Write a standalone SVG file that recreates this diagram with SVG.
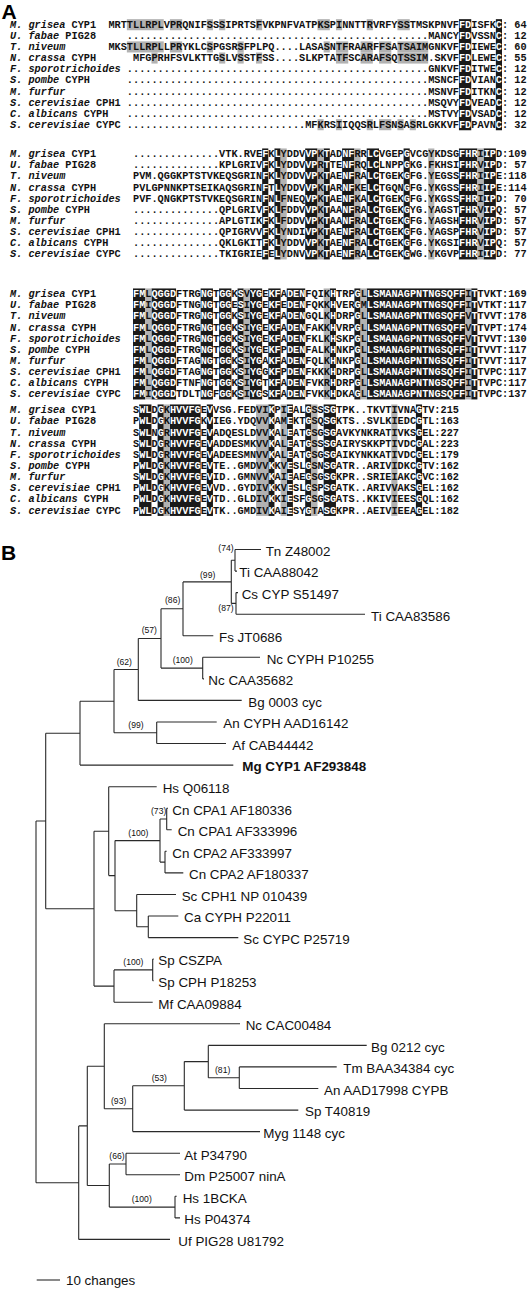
<svg xmlns="http://www.w3.org/2000/svg" width="528" height="1290" viewBox="0 0 528 1290">
<style>
.q{font-family:"Liberation Mono","DejaVu Sans Mono",monospace;font-size:10.25px;font-weight:bold;fill:#111}
.i{font-style:italic}
.w{fill:#fff}
.k{fill:#1a1a1a}
.g{fill:#b2b2b2}
.br{fill:none;stroke:#2a2a2a;stroke-width:1.1}
.lb{font-family:"Liberation Sans",Arial,sans-serif;font-size:13.4px;fill:#111}
.bd{font-weight:bold}
.bs{font-family:"Liberation Sans",Arial,sans-serif;font-size:8.6px;fill:#111}
.pl{font-family:"Liberation Sans",Arial,sans-serif;font-size:21px;font-weight:bold;fill:#000}
</style>
<rect width="528" height="1290" fill="#fff"/>
<g id="panel-labels">
<text class="pl" x="1.5" y="18.5">A</text>
<text class="pl" x="1" y="559.5">B</text>
</g>
<g id="shading">
<rect class="k" x="458.95" y="19.15" width="12.3" height="111.1"/>
<rect class="k" x="495.85" y="19.15" width="6.15" height="111.1"/>
<rect class="g" x="126.85" y="19.15" width="36.9" height="11.1"/>
<rect class="g" x="169.9" y="19.15" width="12.3" height="11.1"/>
<rect class="g" x="206.8" y="19.15" width="6.15" height="11.1"/>
<rect class="g" x="219.1" y="19.15" width="6.15" height="11.1"/>
<rect class="g" x="256" y="19.15" width="6.15" height="11.1"/>
<rect class="g" x="317.5" y="19.15" width="12.3" height="11.1"/>
<rect class="g" x="335.95" y="19.15" width="6.15" height="11.1"/>
<rect class="g" x="366.7" y="19.15" width="6.15" height="11.1"/>
<rect class="g" x="397.45" y="19.15" width="12.3" height="11.1"/>
<rect class="g" x="126.85" y="41.37" width="36.9" height="11.1"/>
<rect class="g" x="169.9" y="41.37" width="12.3" height="11.1"/>
<rect class="g" x="206.8" y="41.37" width="6.15" height="11.1"/>
<rect class="g" x="237.55" y="41.37" width="6.15" height="11.1"/>
<rect class="g" x="323.65" y="41.37" width="6.15" height="11.1"/>
<rect class="g" x="335.95" y="41.37" width="12.3" height="11.1"/>
<rect class="g" x="360.55" y="41.37" width="12.3" height="11.1"/>
<rect class="g" x="379" y="41.37" width="12.3" height="11.1"/>
<rect class="g" x="397.45" y="41.37" width="30.75" height="11.1"/>
<rect class="g" x="151.45" y="52.48" width="6.15" height="11.1"/>
<rect class="g" x="219.1" y="52.48" width="6.15" height="11.1"/>
<rect class="g" x="237.55" y="52.48" width="6.15" height="11.1"/>
<rect class="g" x="256" y="52.48" width="6.15" height="11.1"/>
<rect class="g" x="335.95" y="52.48" width="12.3" height="11.1"/>
<rect class="g" x="360.55" y="52.48" width="12.3" height="11.1"/>
<rect class="g" x="379" y="52.48" width="12.3" height="11.1"/>
<rect class="g" x="397.45" y="52.48" width="30.75" height="11.1"/>
<rect class="g" x="317.5" y="119.14" width="6.15" height="11.1"/>
<rect class="g" x="335.95" y="119.14" width="6.15" height="11.1"/>
<rect class="g" x="366.7" y="119.14" width="6.15" height="11.1"/>
<rect class="g" x="379" y="119.14" width="12.3" height="11.1"/>
<rect class="g" x="397.45" y="119.14" width="6.15" height="11.1"/>
<rect class="g" x="409.75" y="119.14" width="6.15" height="11.1"/>
<rect class="k" x="262.15" y="148.45" width="6.15" height="111"/>
<rect class="k" x="274.45" y="148.45" width="6.15" height="111"/>
<rect class="k" x="305.2" y="148.45" width="12.3" height="111"/>
<rect class="k" x="323.65" y="148.45" width="6.15" height="111"/>
<rect class="k" x="342.1" y="148.45" width="12.3" height="111"/>
<rect class="k" x="366.7" y="148.45" width="12.3" height="111"/>
<rect class="k" x="403.6" y="148.45" width="6.15" height="111"/>
<rect class="k" x="458.95" y="148.45" width="18.45" height="111"/>
<rect class="k" x="483.55" y="148.45" width="12.3" height="111"/>
<rect class="g" x="280.6" y="148.45" width="6.15" height="111"/>
<rect class="g" x="317.5" y="148.45" width="6.15" height="111"/>
<rect class="g" x="354.4" y="148.45" width="6.15" height="111"/>
<rect class="g" x="428.2" y="148.45" width="6.15" height="111"/>
<rect class="g" x="477.4" y="148.45" width="6.15" height="111"/>
<rect class="k" x="133" y="288.45" width="12.3" height="111"/>
<rect class="k" x="151.45" y="288.45" width="24.6" height="111"/>
<rect class="k" x="200.65" y="288.45" width="12.3" height="111"/>
<rect class="k" x="219.1" y="288.45" width="12.3" height="111"/>
<rect class="k" x="237.55" y="288.45" width="6.15" height="111"/>
<rect class="k" x="249.85" y="288.45" width="12.3" height="111"/>
<rect class="k" x="268.3" y="288.45" width="12.3" height="111"/>
<rect class="k" x="286.75" y="288.45" width="18.45" height="111"/>
<rect class="k" x="329.8" y="288.45" width="6.15" height="111"/>
<rect class="k" x="354.4" y="288.45" width="6.15" height="111"/>
<rect class="k" x="366.7" y="288.45" width="98.4" height="111"/>
<rect class="k" x="471.25" y="288.45" width="6.15" height="111"/>
<rect class="g" x="145.3" y="288.45" width="6.15" height="111"/>
<rect class="g" x="243.7" y="288.45" width="6.15" height="111"/>
<rect class="g" x="323.65" y="288.45" width="6.15" height="111"/>
<rect class="g" x="360.55" y="288.45" width="6.15" height="111"/>
<rect class="g" x="465.1" y="288.45" width="6.15" height="111"/>
<rect class="k" x="139.15" y="404.45" width="12.3" height="111.5"/>
<rect class="k" x="157.6" y="404.45" width="6.15" height="111.5"/>
<rect class="k" x="169.9" y="404.45" width="30.75" height="111.5"/>
<rect class="k" x="206.8" y="404.45" width="6.15" height="111.5"/>
<rect class="k" x="268.3" y="404.45" width="6.15" height="111.5"/>
<rect class="k" x="286.75" y="404.45" width="6.15" height="111.5"/>
<rect class="k" x="305.2" y="404.45" width="6.15" height="111.5"/>
<rect class="k" x="323.65" y="404.45" width="12.3" height="111.5"/>
<rect class="k" x="415.9" y="404.45" width="6.15" height="111.5"/>
<rect class="g" x="163.75" y="404.45" width="6.15" height="111.5"/>
<rect class="g" x="256" y="404.45" width="12.3" height="111.5"/>
<rect class="g" x="280.6" y="404.45" width="6.15" height="111.5"/>
<rect class="g" x="311.35" y="404.45" width="6.15" height="111.5"/>
<rect class="g" x="391.3" y="404.45" width="6.15" height="111.5"/>
</g>
<g id="block1">
<text class="q" x="10" y="27.9"><tspan class="i">M. grisea</tspan> CYP1</text>
<text class="q" x="10" y="39.01"><tspan class="i">U. fabae</tspan> PIG28</text>
<text class="q" x="10" y="50.12"><tspan class="i">T. niveum</tspan></text>
<text class="q" x="10" y="61.23"><tspan class="i">N. crassa</tspan> CYPH</text>
<text class="q" x="10" y="72.34"><tspan class="i">F. sporotrichoides</tspan></text>
<text class="q" x="10" y="83.45"><tspan class="i">S. pombe</tspan> CYPH</text>
<text class="q" x="10" y="94.56"><tspan class="i">M. furfur</tspan></text>
<text class="q" x="10" y="105.67"><tspan class="i">S. cerevisiae</tspan> CPH1</text>
<text class="q" x="10" y="116.78"><tspan class="i">C. albicans</tspan> CYPH</text>
<text class="q" x="10" y="127.89"><tspan class="i">S. cerevisiae</tspan> CYPC</text>
<text class="q" x="108.4" y="27.9">MRTTLLRPLVPRQNIFSSSIPRTSFVKPNFVATPKSPINNTTRVRFYSSTMSKPNVF<tspan x="458.95" class="w">FD</tspan>ISFK<tspan class="w">C</tspan><tspan x="502">: 64</tspan></text>
<text class="q" x="126.85" y="39.01">.................................................<tspan x="428.2">MANCY</tspan><tspan x="458.95" class="w">FD</tspan>VSSN<tspan class="w">C</tspan><tspan x="502">: 12</tspan></text>
<text class="q" x="108.4" y="50.12">MKSTLLRPLLPRYKLCSPGSRSFPLPQ....LASASNTFRAARFFSATSAIMGNKVF<tspan x="458.95" class="w">FD</tspan>IEWE<tspan class="w">C</tspan><tspan x="502">: 60</tspan></text>
<text class="q" x="133" y="61.23">MFGPRHFSVLKTTGSLVSSTFSS....SLKPTATFSCARAFSQTSSIM.SKVF<tspan x="458.95" class="w">FD</tspan>LEWE<tspan class="w">C</tspan><tspan x="502">: 55</tspan></text>
<text class="q" x="126.85" y="72.34">.................................................<tspan x="428.2">GNKVF</tspan><tspan x="458.95" class="w">FD</tspan>ITWE<tspan class="w">C</tspan><tspan x="502">: 12</tspan></text>
<text class="q" x="126.85" y="83.45">.................................................<tspan x="428.2">MSNCF</tspan><tspan x="458.95" class="w">FD</tspan>VIAN<tspan class="w">C</tspan><tspan x="502">: 12</tspan></text>
<text class="q" x="126.85" y="94.56">.................................................<tspan x="428.2">MSNVF</tspan><tspan x="458.95" class="w">FD</tspan>ITKN<tspan class="w">C</tspan><tspan x="502">: 12</tspan></text>
<text class="q" x="126.85" y="105.67">.................................................<tspan x="428.2">MSQVY</tspan><tspan x="458.95" class="w">FD</tspan>VEAD<tspan class="w">C</tspan><tspan x="502">: 12</tspan></text>
<text class="q" x="126.85" y="116.78">.................................................<tspan x="428.2">MSTVY</tspan><tspan x="458.95" class="w">FD</tspan>VSAD<tspan class="w">C</tspan><tspan x="502">: 12</tspan></text>
<text class="q" x="126.85" y="127.89">.............................<tspan x="305.2">MFKRSIIQQSRLFSNSASRLGKKVF</tspan><tspan x="458.95" class="w">FD</tspan>PAVN<tspan class="w">C</tspan><tspan x="502">: 32</tspan></text>
</g>
<g id="block2">
<text class="q" x="10" y="157.2"><tspan class="i">M. grisea</tspan> CYP1</text>
<text class="q" x="10" y="168.3"><tspan class="i">U. fabae</tspan> PIG28</text>
<text class="q" x="10" y="179.4"><tspan class="i">T. niveum</tspan></text>
<text class="q" x="10" y="190.5"><tspan class="i">N. crassa</tspan> CYPH</text>
<text class="q" x="10" y="201.6"><tspan class="i">F. sporotrichoides</tspan></text>
<text class="q" x="10" y="212.7"><tspan class="i">S. pombe</tspan> CYPH</text>
<text class="q" x="10" y="223.8"><tspan class="i">M. furfur</tspan></text>
<text class="q" x="10" y="234.9"><tspan class="i">S. cerevisiae</tspan> CPH1</text>
<text class="q" x="10" y="246"><tspan class="i">C. albicans</tspan> CYPH</text>
<text class="q" x="10" y="257.1"><tspan class="i">S. cerevisiae</tspan> CYPC</text>
<text class="q" x="133" y="157.2">..............VTK.RVE<tspan x="262.15" class="w">F</tspan>K<tspan class="w">L</tspan>YDDV<tspan class="w">VP</tspan>K<tspan class="w">T</tspan>AD<tspan class="w">NF</tspan>RR<tspan class="w">LC</tspan>VGEP<tspan class="w">G</tspan>VCGYKDSG<tspan class="w">FHR</tspan>I<tspan class="w">IP</tspan>D<tspan x="502">:109</tspan></text>
<text class="q" x="133" y="168.3">..............KPLGRIV<tspan x="262.15" class="w">F</tspan>K<tspan class="w">L</tspan>YDDV<tspan class="w">VP</tspan>R<tspan class="w">T</tspan>TE<tspan class="w">NF</tspan>RQ<tspan class="w">LC</tspan>LNPP<tspan class="w">G</tspan>KG.FKHSI<tspan class="w">FHR</tspan>V<tspan class="w">IP</tspan>D<tspan x="502">: 57</tspan></text>
<text class="q" x="133" y="179.4">PVM.QGGKPTSTVKEQSGRIN<tspan x="262.15" class="w">F</tspan>K<tspan class="w">L</tspan>YDDV<tspan class="w">VP</tspan>K<tspan class="w">T</tspan>AE<tspan class="w">NF</tspan>RA<tspan class="w">LC</tspan>TGEK<tspan class="w">G</tspan>FG.YEGSS<tspan class="w">FHR</tspan>I<tspan class="w">IP</tspan>E<tspan x="502">:118</tspan></text>
<text class="q" x="133" y="190.5">PVLGPNNKPTSEIKAQSGRIN<tspan x="262.15" class="w">F</tspan>T<tspan class="w">L</tspan>YDDV<tspan class="w">VP</tspan>K<tspan class="w">T</tspan>AR<tspan class="w">NF</tspan>KE<tspan class="w">LC</tspan>TGQN<tspan class="w">G</tspan>FG.YKGSS<tspan class="w">FHR</tspan>I<tspan class="w">IP</tspan>E<tspan x="502">:114</tspan></text>
<text class="q" x="133" y="201.6">PVF.QNGKPTSTVKEQSGRIN<tspan x="262.15" class="w">F</tspan>N<tspan class="w">L</tspan>FNEQ<tspan class="w">VP</tspan>K<tspan class="w">T</tspan>AE<tspan class="w">NF</tspan>KA<tspan class="w">LC</tspan>TGEK<tspan class="w">G</tspan>FG.YKGSS<tspan class="w">FHR</tspan>I<tspan class="w">IP</tspan>D<tspan x="502">: 70</tspan></text>
<text class="q" x="133" y="212.7">..............QPLGRIV<tspan x="262.15" class="w">F</tspan>K<tspan class="w">L</tspan>FDDV<tspan class="w">VP</tspan>K<tspan class="w">T</tspan>AA<tspan class="w">NF</tspan>RA<tspan class="w">LC</tspan>TGEK<tspan class="w">G</tspan>YG.YAGST<tspan class="w">FHR</tspan>V<tspan class="w">IP</tspan>Q<tspan x="502">: 57</tspan></text>
<text class="q" x="133" y="223.8">..............APLGTIK<tspan x="262.15" class="w">F</tspan>K<tspan class="w">L</tspan>FDDV<tspan class="w">VP</tspan>K<tspan class="w">T</tspan>AA<tspan class="w">NF</tspan>RA<tspan class="w">LC</tspan>TGEK<tspan class="w">G</tspan>FG.YAGSH<tspan class="w">FHR</tspan>V<tspan class="w">IP</tspan>D<tspan x="502">: 57</tspan></text>
<text class="q" x="133" y="234.9">..............QPIGRVV<tspan x="262.15" class="w">F</tspan>K<tspan class="w">L</tspan>YNDI<tspan class="w">VP</tspan>K<tspan class="w">T</tspan>AE<tspan class="w">NF</tspan>RA<tspan class="w">LC</tspan>TGEK<tspan class="w">G</tspan>FG.YAGSP<tspan class="w">FHR</tspan>V<tspan class="w">IP</tspan>D<tspan x="502">: 57</tspan></text>
<text class="q" x="133" y="246">..............QKLGKIT<tspan x="262.15" class="w">F</tspan>K<tspan class="w">L</tspan>YDDV<tspan class="w">VP</tspan>K<tspan class="w">T</tspan>AE<tspan class="w">NF</tspan>RA<tspan class="w">LC</tspan>TGEK<tspan class="w">G</tspan>FG.YKGSI<tspan class="w">FHR</tspan>V<tspan class="w">IP</tspan>Q<tspan x="502">: 57</tspan></text>
<text class="q" x="133" y="257.1">..............TKIGRIE<tspan x="262.15" class="w">F</tspan>E<tspan class="w">L</tspan>YDNV<tspan class="w">VP</tspan>K<tspan class="w">T</tspan>AE<tspan class="w">NF</tspan>RA<tspan class="w">LC</tspan>TGEK<tspan class="w">G</tspan>WG.YKGVP<tspan class="w">FHR</tspan>I<tspan class="w">IP</tspan>D<tspan x="502">: 77</tspan></text>
</g>
<g id="block3">
<text class="q" x="10" y="297.2"><tspan class="i">M. grisea</tspan> CYP1</text>
<text class="q" x="10" y="308.3"><tspan class="i">U. fabae</tspan> PIG28</text>
<text class="q" x="10" y="319.4"><tspan class="i">T. niveum</tspan></text>
<text class="q" x="10" y="330.5"><tspan class="i">N. crassa</tspan> CYPH</text>
<text class="q" x="10" y="341.6"><tspan class="i">F. sporotrichoides</tspan></text>
<text class="q" x="10" y="352.7"><tspan class="i">S. pombe</tspan> CYPH</text>
<text class="q" x="10" y="363.8"><tspan class="i">M. furfur</tspan></text>
<text class="q" x="10" y="374.9"><tspan class="i">S. cerevisiae</tspan> CPH1</text>
<text class="q" x="10" y="386"><tspan class="i">C. albicans</tspan> CYPH</text>
<text class="q" x="10" y="397.1"><tspan class="i">S. cerevisiae</tspan> CYPC</text>
<text class="q" x="133" y="297.2"><tspan class="w">FM</tspan>L<tspan class="w">QGGD</tspan>FTRG<tspan class="w">NG</tspan>T<tspan class="w">GG</tspan>K<tspan class="w">S</tspan>V<tspan class="w">YG</tspan>E<tspan class="w">KF</tspan>A<tspan class="w">DEN</tspan>FQIK<tspan class="w">H</tspan>TRP<tspan class="w">G</tspan>L<tspan class="w">LSMANAGPNTNGSQFF</tspan>I<tspan class="w">T</tspan>TVKT<tspan x="502">:169</tspan></text>
<text class="q" x="133" y="308.3"><tspan class="w">FM</tspan>I<tspan class="w">QGGD</tspan>FTNG<tspan class="w">NG</tspan>T<tspan class="w">GG</tspan>E<tspan class="w">S</tspan>I<tspan class="w">YG</tspan>E<tspan class="w">KF</tspan>E<tspan class="w">DEN</tspan>FQKK<tspan class="w">H</tspan>VER<tspan class="w">G</tspan>M<tspan class="w">LSMANAGPNTNGSQFF</tspan>I<tspan class="w">T</tspan>VTKT<tspan x="502">:117</tspan></text>
<text class="q" x="133" y="319.4"><tspan class="w">FM</tspan>L<tspan class="w">QGGD</tspan>FTRG<tspan class="w">NG</tspan>T<tspan class="w">GG</tspan>K<tspan class="w">S</tspan>I<tspan class="w">YG</tspan>E<tspan class="w">KF</tspan>A<tspan class="w">DEN</tspan>GQLK<tspan class="w">H</tspan>DRP<tspan class="w">G</tspan>L<tspan class="w">LSMANAGPNTNGSQFF</tspan>V<tspan class="w">T</tspan>TVVT<tspan x="502">:178</tspan></text>
<text class="q" x="133" y="330.5"><tspan class="w">FM</tspan>L<tspan class="w">QGGD</tspan>FTRG<tspan class="w">NG</tspan>T<tspan class="w">GG</tspan>K<tspan class="w">S</tspan>I<tspan class="w">YG</tspan>E<tspan class="w">KF</tspan>A<tspan class="w">DEN</tspan>FAKK<tspan class="w">H</tspan>VRP<tspan class="w">G</tspan>L<tspan class="w">LSMANAGPNTNGSQFF</tspan>V<tspan class="w">T</tspan>TVPT<tspan x="502">:174</tspan></text>
<text class="q" x="133" y="341.6"><tspan class="w">FM</tspan>L<tspan class="w">QGGD</tspan>FTRG<tspan class="w">NG</tspan>T<tspan class="w">GG</tspan>K<tspan class="w">S</tspan>I<tspan class="w">YG</tspan>E<tspan class="w">KF</tspan>A<tspan class="w">DEN</tspan>FKLK<tspan class="w">H</tspan>SKP<tspan class="w">G</tspan>L<tspan class="w">LSMANAGPNTNGSQFF</tspan>V<tspan class="w">T</tspan>TVVT<tspan x="502">:130</tspan></text>
<text class="q" x="133" y="352.7"><tspan class="w">FM</tspan>L<tspan class="w">QGGD</tspan>FTRG<tspan class="w">NG</tspan>T<tspan class="w">GG</tspan>K<tspan class="w">S</tspan>I<tspan class="w">YG</tspan>E<tspan class="w">KF</tspan>P<tspan class="w">DEN</tspan>FALK<tspan class="w">H</tspan>NKP<tspan class="w">G</tspan>L<tspan class="w">LSMANAGPNTNGSQFF</tspan>I<tspan class="w">T</tspan>TVVT<tspan x="502">:117</tspan></text>
<text class="q" x="133" y="363.8"><tspan class="w">FM</tspan>L<tspan class="w">QGGD</tspan>FTAG<tspan class="w">NG</tspan>T<tspan class="w">GG</tspan>K<tspan class="w">S</tspan>I<tspan class="w">YG</tspan>A<tspan class="w">KF</tspan>A<tspan class="w">DEN</tspan>FQLK<tspan class="w">H</tspan>NKP<tspan class="w">G</tspan>L<tspan class="w">LSMANAGPNTNGSQFF</tspan>I<tspan class="w">T</tspan>TVVT<tspan x="502">:117</tspan></text>
<text class="q" x="133" y="374.9"><tspan class="w">FM</tspan>L<tspan class="w">QGGD</tspan>FTAG<tspan class="w">NG</tspan>T<tspan class="w">GG</tspan>K<tspan class="w">S</tspan>I<tspan class="w">YG</tspan>G<tspan class="w">KF</tspan>P<tspan class="w">DEN</tspan>FKKK<tspan class="w">H</tspan>DRP<tspan class="w">G</tspan>L<tspan class="w">LSMANAGPNTNGSQFF</tspan>I<tspan class="w">T</tspan>TVPC<tspan x="502">:117</tspan></text>
<text class="q" x="133" y="386"><tspan class="w">FM</tspan>L<tspan class="w">QGGD</tspan>FTNF<tspan class="w">NG</tspan>T<tspan class="w">GG</tspan>K<tspan class="w">S</tspan>I<tspan class="w">YG</tspan>T<tspan class="w">KF</tspan>A<tspan class="w">DEN</tspan>FVKR<tspan class="w">H</tspan>DRP<tspan class="w">G</tspan>L<tspan class="w">LSMANAGPNTNGSQFF</tspan>I<tspan class="w">T</tspan>TVPC<tspan x="502">:117</tspan></text>
<text class="q" x="133" y="397.1"><tspan class="w">FM</tspan>I<tspan class="w">QGGD</tspan>TDLT<tspan class="w">NG</tspan>F<tspan class="w">GG</tspan>K<tspan class="w">S</tspan>I<tspan class="w">YG</tspan>S<tspan class="w">KF</tspan>A<tspan class="w">DEN</tspan>FVKK<tspan class="w">H</tspan>DKA<tspan class="w">G</tspan>L<tspan class="w">LSMANAGPNTNGSQFF</tspan>I<tspan class="w">T</tspan>TVPC<tspan x="502">:137</tspan></text>
</g>
<g id="block4">
<text class="q" x="10" y="413.2"><tspan class="i">M. grisea</tspan> CYP1</text>
<text class="q" x="10" y="424.35"><tspan class="i">U. fabae</tspan> PIG28</text>
<text class="q" x="10" y="435.5"><tspan class="i">T. niveum</tspan></text>
<text class="q" x="10" y="446.65"><tspan class="i">N. crassa</tspan> CYPH</text>
<text class="q" x="10" y="457.8"><tspan class="i">F. sporotrichoides</tspan></text>
<text class="q" x="10" y="468.95"><tspan class="i">S. pombe</tspan> CYPH</text>
<text class="q" x="10" y="480.1"><tspan class="i">M. furfur</tspan></text>
<text class="q" x="10" y="491.25"><tspan class="i">S. cerevisiae</tspan> CPH1</text>
<text class="q" x="10" y="502.4"><tspan class="i">C. albicans</tspan> CYPH</text>
<text class="q" x="10" y="513.55"><tspan class="i">S. cerevisiae</tspan> CYPC</text>
<text class="q" x="133" y="413.2">S<tspan class="w">WL</tspan>D<tspan class="w">G</tspan>K<tspan class="w">HVVFG</tspan>E<tspan class="w">V</tspan>VSG.FEDVI<tspan class="w">K</tspan>PI<tspan class="w">E</tspan>AL<tspan class="w">G</tspan>SS<tspan class="w">SG</tspan>TPK..TKVTIVNA<tspan class="w">G</tspan>TV<tspan x="434.35">:215</tspan></text>
<text class="q" x="133" y="424.35">P<tspan class="w">WL</tspan>D<tspan class="w">G</tspan>K<tspan class="w">HVVFG</tspan>K<tspan class="w">V</tspan>IEG.YDQVV<tspan class="w">K</tspan>AM<tspan class="w">E</tspan>KT<tspan class="w">G</tspan>SQ<tspan class="w">SG</tspan>KTS..SVLKIEDC<tspan class="w">G</tspan>TL<tspan x="434.35">:163</tspan></text>
<text class="q" x="133" y="435.5">S<tspan class="w">WL</tspan>N<tspan class="w">G</tspan>R<tspan class="w">HVVFG</tspan>E<tspan class="w">V</tspan>ADQESLDVV<tspan class="w">K</tspan>AL<tspan class="w">E</tspan>AT<tspan class="w">G</tspan>SG<tspan class="w">SG</tspan>AVKYNKRATIVKS<tspan class="w">G</tspan>EL<tspan x="434.35">:227</tspan></text>
<text class="q" x="133" y="446.65">S<tspan class="w">WL</tspan>D<tspan class="w">G</tspan>R<tspan class="w">HVVFG</tspan>E<tspan class="w">V</tspan>ADDESMKVV<tspan class="w">K</tspan>AL<tspan class="w">E</tspan>AT<tspan class="w">G</tspan>SS<tspan class="w">SG</tspan>AIRYSKKPTIVDC<tspan class="w">G</tspan>AL<tspan x="434.35">:223</tspan></text>
<text class="q" x="133" y="457.8">S<tspan class="w">WL</tspan>D<tspan class="w">G</tspan>R<tspan class="w">HVVFG</tspan>E<tspan class="w">V</tspan>ADEESMNVV<tspan class="w">K</tspan>AL<tspan class="w">E</tspan>AT<tspan class="w">G</tspan>SG<tspan class="w">SG</tspan>AIKYNKKATIVDC<tspan class="w">G</tspan>EL<tspan x="434.35">:179</tspan></text>
<text class="q" x="133" y="468.95">P<tspan class="w">WL</tspan>D<tspan class="w">G</tspan>K<tspan class="w">HVVFG</tspan>E<tspan class="w">V</tspan>TE..GMDVV<tspan class="w">K</tspan>KV<tspan class="w">E</tspan>SL<tspan class="w">G</tspan>SN<tspan class="w">SG</tspan>ATR..ARIVIDKC<tspan class="w">G</tspan>TV<tspan x="434.35">:162</tspan></text>
<text class="q" x="133" y="480.1">S<tspan class="w">WL</tspan>D<tspan class="w">G</tspan>K<tspan class="w">HVVFG</tspan>E<tspan class="w">V</tspan>ID..GMNVV<tspan class="w">K</tspan>AI<tspan class="w">E</tspan>AE<tspan class="w">G</tspan>SG<tspan class="w">SG</tspan>KPR..SRIEIAKC<tspan class="w">G</tspan>VC<tspan x="434.35">:162</tspan></text>
<text class="q" x="133" y="491.25">P<tspan class="w">WL</tspan>D<tspan class="w">G</tspan>K<tspan class="w">HVVFG</tspan>E<tspan class="w">V</tspan>VD..GYDIV<tspan class="w">K</tspan>KV<tspan class="w">E</tspan>SL<tspan class="w">G</tspan>SP<tspan class="w">SG</tspan>ATK..ARIVVAKS<tspan class="w">G</tspan>EL<tspan x="434.35">:162</tspan></text>
<text class="q" x="133" y="502.4">P<tspan class="w">WL</tspan>D<tspan class="w">G</tspan>K<tspan class="w">HVVFG</tspan>E<tspan class="w">V</tspan>TD..GLDIV<tspan class="w">K</tspan>KI<tspan class="w">E</tspan>SF<tspan class="w">G</tspan>SG<tspan class="w">SG</tspan>ATS..KKIVIEES<tspan class="w">G</tspan>QL<tspan x="434.35">:162</tspan></text>
<text class="q" x="133" y="513.55">P<tspan class="w">WL</tspan>D<tspan class="w">G</tspan>K<tspan class="w">HVVFG</tspan>E<tspan class="w">V</tspan>TK..GMDIV<tspan class="w">K</tspan>AI<tspan class="w">E</tspan>SY<tspan class="w">G</tspan>TA<tspan class="w">SG</tspan>KPR..AEIVIEEA<tspan class="w">G</tspan>EL<tspan x="434.35">:182</tspan></text>
</g>
<g id="tree-connectors">
<path class="br" d="M36 821V1182.7M36 821H45.7M36 1182.7H78.7
M45.7 733.2V908.7M45.7 733.2H80M45.7 908.7H94
M80 701.2V765.1M80 701.2H114M80 765.1H233.3
M114 669.5V732.8M114 669.5H138.3M114 732.8H156.7
M138.3 638.5V700.4M138.3 638.5H161M138.3 700.4H241.7
M161 608.8V668.1M161 608.8H183M161 668.1H202.7
M183 581.9V635.7M183 581.9H231.3M183 635.7H213.3
M231.3 560.3V603.4M231.3 560.3H235M231.3 603.4H236
M235 549.5V571.1M235 549.5H261M235 571.1H237
M236 592.6V614.2M236 592.6H238M236 614.2H365
M202.7 657.3V678.9M202.7 657.3H260M202.7 678.9H204
M156.7 722V743.5M156.7 722H216.7M156.7 743.5H226
M94 831.2V986.1M94 831.2H108.7M94 986.1H114
M108.7 786.7V875.6M108.7 786.7H156.7M108.7 875.6H115
M115 840.6V910.7M115 840.6H160M115 910.7H136.7
M160 819V862.1M160 819H166.7M160 862.1H165
M166.7 808.2V829.8M166.7 808.2H168M166.7 829.8H171.7
M165 851.3V872.9M165 851.3H166.7M165 872.9H183.3
M136.7 894.5V926.8M136.7 894.5H176M136.7 926.8H148.3
M148.3 916V937.6M148.3 916H178.3M148.3 937.6H238.3
M114 969.9V1002.3M114 969.9H152.7M114 1002.3H152.7
M152.7 959.1V980.7M152.7 959.1H153.7M152.7 980.7H153.7
M78.7 1125.9V1239.4M78.7 1125.9H87.3M78.7 1239.4H170
M87.3 1066.3V1185.5M87.3 1066.3H104.3M87.3 1185.5H109.3
M104.3 1023.8V1108.7M104.3 1023.8H240M104.3 1108.7H132.7
M132.7 1085.8V1131.6M132.7 1085.8H184.3M132.7 1131.6H260
M184.3 1061.6V1110.1M184.3 1061.6H208.3M184.3 1110.1H298.3
M208.3 1045.4V1077.7M208.3 1045.4H366.7M208.3 1077.7H239.3
M239.3 1066.9V1088.5M239.3 1066.9H336.7M239.3 1088.5H318.3
M109.3 1164V1207.1M109.3 1164H126M109.3 1207.1H175
M126 1153.2V1174.7M126 1153.2H180M126 1174.7H180
M175 1196.3V1217.9M175 1196.3H176.7M175 1217.9H180"/>
</g>
<g id="bootstrap">
<text class="bs" x="218.3" y="551.3">(74)</text>
<text class="bs" x="200" y="578">(99)</text>
<text class="bs" x="218.3" y="611.3">(87)</text>
<text class="bs" x="165" y="603">(86)</text>
<text class="bs" x="141.7" y="633">(57)</text>
<text class="bs" x="172.7" y="663">(100)</text>
<text class="bs" x="116.7" y="664.7">(62)</text>
<text class="bs" x="128.3" y="728">(99)</text>
<text class="bs" x="151" y="813.7">(73)</text>
<text class="bs" x="128.3" y="836.3">(100)</text>
<text class="bs" x="123.3" y="965.3">(100)</text>
<text class="bs" x="151.7" y="1081.3">(53)</text>
<text class="bs" x="215" y="1073">(81)</text>
<text class="bs" x="111" y="1103.7">(93)</text>
<text class="bs" x="109.3" y="1159">(66)</text>
<text class="bs" x="131.7" y="1202.3">(100)</text>
</g>
<g id="leaf-tn-z48002"><text class="lb" x="265.7" y="555.8">Tn Z48002</text></g>
<g id="leaf-ti-caa88042"><text class="lb" x="239.3" y="577.4">Ti CAA88042</text></g>
<g id="leaf-cs-cyp-s51497"><text class="lb" x="241.7" y="598.9">Cs CYP S51497</text></g>
<g id="leaf-ti-caa83586"><text class="lb" x="371" y="620.5">Ti CAA83586</text></g>
<g id="leaf-fs-jt0686"><text class="lb" x="219" y="642">Fs JT0686</text></g>
<g id="leaf-nc-cyph-p10255"><text class="lb" x="266.7" y="663.6">Nc CYPH P10255</text></g>
<g id="leaf-nc-caa35682"><text class="lb" x="208.3" y="685.2">Nc CAA35682</text></g>
<g id="leaf-bg-0003"><text class="lb" x="248.3" y="706.7">Bg 0003 cyc</text></g>
<g id="leaf-an-cyph-aad16142"><text class="lb" x="223.3" y="728.3">An CYPH AAD16142</text></g>
<g id="leaf-af-cab44442"><text class="lb" x="232.3" y="749.8">Af CAB44442</text></g>
<g id="leaf-mg-cyp1"><text class="lb bd" x="242.3" y="771.4">Mg CYP1 AF293848</text></g>
<g id="leaf-hs-q06118"><text class="lb" x="162.7" y="793">Hs Q06118</text></g>
<g id="leaf-cn-cpa1-af180336"><text class="lb" x="172.3" y="814.5">Cn CPA1 AF180336</text></g>
<g id="leaf-cn-cpa1-af333996"><text class="lb" x="177.7" y="836.1">Cn CPA1 AF333996</text></g>
<g id="leaf-cn-cpa2-af333997"><text class="lb" x="172.3" y="857.6">Cn CPA2 AF333997</text></g>
<g id="leaf-cn-cpa2-af180337"><text class="lb" x="189" y="879.2">Cn CPA2 AF180337</text></g>
<g id="leaf-sc-cph1"><text class="lb" x="181.7" y="900.8">Sc CPH1 NP 010439</text></g>
<g id="leaf-ca-cyph"><text class="lb" x="184" y="922.3">Ca CYPH P22011</text></g>
<g id="leaf-sc-cypc"><text class="lb" x="243.3" y="943.9">Sc CYPC P25719</text></g>
<g id="leaf-sp-cszpa"><text class="lb" x="158.3" y="965.4">Sp CSZPA</text></g>
<g id="leaf-sp-cph"><text class="lb" x="158.3" y="987">Sp CPH P18253</text></g>
<g id="leaf-mf-caa09884"><text class="lb" x="158.3" y="1008.6">Mf CAA09884</text></g>
<g id="leaf-nc-cac00484"><text class="lb" x="245.7" y="1030.1">Nc CAC00484</text></g>
<g id="leaf-bg-0212"><text class="lb" x="371" y="1051.7">Bg 0212 cyc</text></g>
<g id="leaf-tm-baa34384"><text class="lb" x="343.3" y="1073.2">Tm BAA34384 cyc</text></g>
<g id="leaf-an-aad17998"><text class="lb" x="324" y="1094.8">An AAD17998 CYPB</text></g>
<g id="leaf-sp-t40819"><text class="lb" x="305" y="1116.4">Sp T40819</text></g>
<g id="leaf-myg-1148"><text class="lb" x="263.3" y="1137.9">Myg 1148 cyc</text></g>
<g id="leaf-at-p34790"><text class="lb" x="184.3" y="1159.5">At P34790</text></g>
<g id="leaf-dm-p25007"><text class="lb" x="184.3" y="1181">Dm P25007 ninA</text></g>
<g id="leaf-hs-1bcka"><text class="lb" x="182.7" y="1202.6">Hs 1BCKA</text></g>
<g id="leaf-hs-p04374"><text class="lb" x="184.3" y="1224.2">Hs P04374</text></g>
<g id="leaf-uf-pig28"><text class="lb" x="178.3" y="1245.7">Uf PIG28 U81792</text></g>
<g id="scale-bar">
<path class="br" d="M36.7 1280H60"/>
<text class="lb" x="66" y="1285.2">10 changes</text>
</g>
</svg>
